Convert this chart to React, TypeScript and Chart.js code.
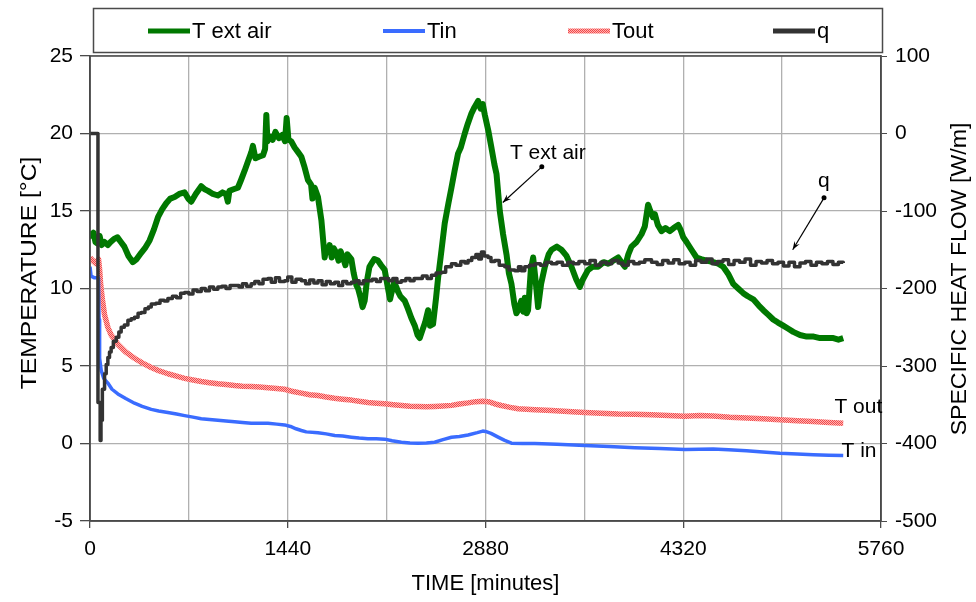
import React, { useEffect, useRef } from "react";
import { Chart, registerables } from "chart.js";

Chart.register(...registerables);

// ---------------- DATA ----------------
const extAirTime = [
  0, 10, 25, 40, 55, 70, 85, 105, 130, 150, 175, 200, 225, 250, 280, 312, 340, 373, 400, 434,
  465, 495, 525, 555, 585, 616, 650, 689, 715, 737, 770, 810, 835, 859, 895, 931, 965, 990, 1004, 1015,
  1045, 1077, 1100, 1126, 1150, 1175, 1186, 1205, 1230, 1260, 1275, 1284, 1292, 1310, 1330, 1350, 1375, 1400, 1420, 1432,
  1445, 1465, 1490, 1515, 1539, 1560, 1587, 1610, 1620, 1636, 1660, 1685, 1700, 1709, 1720, 1735, 1745, 1760, 1775, 1794,
  1810, 1825, 1842, 1860, 1875, 1903, 1920, 1940, 1952, 1970, 1985, 2000, 2015, 2035, 2049, 2070, 2097, 2120, 2146, 2170,
  2185, 2195, 2215, 2230, 2243, 2260, 2292, 2315, 2340, 2365, 2385, 2401, 2420, 2440, 2462, 2475, 2498, 2520, 2535, 2560,
  2583, 2610, 2632, 2655, 2680, 2700, 2729, 2750, 2778, 2800, 2826, 2845, 2860, 2875, 2900, 2923, 2945, 2960, 2984, 3008,
  3033, 3050, 3069, 3090, 3105, 3118, 3140, 3155, 3166, 3180, 3190, 3210, 3227, 3245, 3263, 3285, 3312, 3340, 3361, 3400,
  3433, 3470, 3506, 3540, 3567, 3590, 3627, 3660, 3700, 3740, 3773, 3810, 3846, 3870, 3895, 3920, 3943, 3980, 4016, 4040,
  4064, 4080, 4100, 4113, 4135, 4162, 4190, 4222, 4250, 4283, 4300, 4320, 4344, 4380, 4417, 4450, 4490, 4538, 4575, 4611,
  4650, 4684, 4720, 4757, 4790, 4830, 4870, 4903, 4940, 4975, 5010, 5048, 5085, 5121, 5170, 5219, 5270, 5316, 5360, 5413,
  5450, 5485,
];
const extAirTemp = [
  13.7, 13.4, 13.6, 13.0, 12.9, 13.4, 12.8, 13.0, 12.8, 13.0, 13.2, 13.3, 13.0, 12.7, 12.1, 11.7, 11.9, 12.3, 12.6, 13.1,
  13.8, 14.6, 15.1, 15.5, 15.8, 15.9, 16.1, 16.2, 15.8, 15.6, 16.1, 16.6, 16.4, 16.3, 16.1, 16.0, 16.2, 16.1, 15.6, 16.3,
  16.4, 16.5, 17.0, 17.6, 18.2, 18.8, 19.2, 18.4, 18.5, 18.6, 19.0, 21.2, 19.5, 19.8, 19.6, 20.1, 19.7, 19.9, 19.5, 21.0,
  19.6, 19.5, 19.1, 18.8, 18.5, 17.9, 17.0, 16.7, 15.8, 16.5, 15.9, 14.4, 12.9, 12.0, 12.6, 12.4, 12.8, 12.0, 12.6, 12.3,
  11.8, 12.4, 12.0, 11.5, 12.2, 11.9, 11.0, 10.2, 10.0, 9.4, 8.8, 9.2, 10.4, 11.4, 11.6, 11.9, 11.8, 11.5, 11.2, 10.0,
  9.3, 9.7, 10.4, 10.1, 9.8, 9.5, 9.2, 8.7, 8.1, 7.6, 7.0, 6.8, 7.3, 7.8, 8.6, 7.6, 7.7, 9.4, 10.7, 12.5,
  14.2, 15.5, 16.5, 17.6, 18.7, 19.1, 20.0, 20.6, 21.3, 21.7, 22.1, 21.6, 21.9, 21.2, 20.2, 19.1, 18.0, 17.4, 15.0, 13.5,
  12.2, 11.0, 10.3, 9.0, 8.4, 8.6, 9.2, 8.5, 9.4, 8.4, 8.6, 11.2, 12.0, 10.5, 8.8, 10.3, 11.4, 12.2, 12.5, 12.7,
  12.5, 12.1, 11.4, 10.6, 10.1, 10.6, 11.2, 11.4, 11.4, 11.7, 11.6, 11.8, 12.0, 11.7, 11.4, 12.2, 12.7, 13.0, 13.5, 14.0,
  15.4, 15.0, 14.6, 14.8, 14.1, 13.7, 13.9, 13.7, 13.9, 14.1, 13.8, 13.3, 13.0, 12.5, 12.0, 11.9, 11.8, 11.7, 11.6, 11.4,
  10.9, 10.3, 10.0, 9.7, 9.5, 9.3, 8.9, 8.6, 8.3, 8.0, 7.8, 7.6, 7.4, 7.2, 7.0, 6.9, 6.9, 6.8, 6.8, 6.8,
  6.7, 6.8,
];

const tinTime = [
  0, 8, 30, 62, 66, 70, 82, 100, 130, 160, 203, 260, 324, 380, 446, 500, 567, 630, 689, 750,
  810, 870, 931, 990, 1053, 1110, 1174, 1235, 1296, 1360, 1417, 1460, 1500, 1539, 1575, 1660, 1720, 1782, 1840, 1903,
  1960, 2024, 2085, 2146, 2200, 2267, 2330, 2389, 2450, 2510, 2570, 2632, 2690, 2753, 2820, 2860, 2880, 2920, 2972, 3020,
  3069, 3150, 3239, 3400, 3603, 3780, 3968, 4150, 4332, 4538, 4650, 4781, 4900, 5024, 5150, 5267, 5380, 5485,
];
const tinTemp = [
  11.4, 10.8, 10.7, 10.7, 8.0, 5.5, 4.7, 4.2, 3.9, 3.5, 3.2, 2.9, 2.6, 2.4, 2.2, 2.1, 2.0, 1.9, 1.8, 1.7,
  1.6, 1.55, 1.5, 1.45, 1.4, 1.35, 1.3, 1.3, 1.3, 1.25, 1.2, 1.1, 0.95, 0.84, 0.75, 0.7, 0.62, 0.52, 0.48, 0.41,
  0.35, 0.3, 0.3, 0.28, 0.18, 0.08, 0.04, 0.02, 0.03, 0.08, 0.25, 0.4, 0.45, 0.55, 0.7, 0.8, 0.78, 0.65, 0.41, 0.2,
  0.02, 0.0, 0.0, -0.05, -0.13, -0.2, -0.28, -0.33, -0.38, -0.36, -0.4, -0.47, -0.55, -0.63, -0.68, -0.72, -0.76, -0.78,
];

const toutTime = [
  0, 20, 45, 62, 70, 78, 90, 106, 130, 154, 180, 203, 260, 324, 380, 446, 500, 567, 630, 689,
  750, 810, 870, 931, 990, 1053, 1110, 1174, 1235, 1296, 1360, 1417, 1480, 1540, 1600, 1660, 1720, 1780, 1840, 1903,
  1960, 2024, 2085, 2146, 2210, 2270, 2330, 2389, 2450, 2510, 2570, 2632, 2690, 2753, 2810, 2860, 2900, 2950, 2996, 3060,
  3118, 3240, 3361, 3480, 3603, 3720, 3846, 3968, 4089, 4210, 4332, 4440, 4538, 4660, 4781, 4900, 5024, 5150, 5267, 5380,
  5485,
];
const toutTemp = [
  12.0, 11.8, 11.6, 11.9, 11.2, 10.2, 9.3, 8.3, 7.5, 7.0, 6.7, 6.4, 5.9, 5.5, 5.2, 4.9, 4.7, 4.5, 4.35, 4.2,
  4.1, 4.0, 3.92, 3.85, 3.8, 3.74, 3.7, 3.68, 3.64, 3.6, 3.55, 3.5, 3.35, 3.25, 3.15, 3.1, 3.0, 2.92, 2.86, 2.8,
  2.72, 2.65, 2.6, 2.56, 2.5, 2.45, 2.4, 2.38, 2.37, 2.39, 2.42, 2.46, 2.55, 2.62, 2.7, 2.73, 2.7, 2.55, 2.45, 2.33,
  2.24, 2.18, 2.13, 2.06, 2.0, 1.95, 1.9, 1.88, 1.86, 1.8, 1.76, 1.8, 1.78, 1.7, 1.65, 1.6, 1.53, 1.47, 1.42, 1.36,
  1.31,
];

const qTime = [
  0, 57, 58, 68, 74, 80, 90, 106, 118, 130, 142, 154, 170, 191, 210, 227, 250, 276, 300, 324,
  350, 373, 400, 425, 446, 480, 510, 540, 567, 600, 630, 660, 689, 720, 750, 780, 810, 840, 870, 900,
  931, 960, 990, 1020, 1053, 1085, 1110, 1140, 1174, 1200, 1230, 1260, 1296, 1320, 1350, 1380, 1417, 1440, 1470, 1500,
  1539, 1570, 1600, 1630, 1660, 1690, 1720, 1750, 1782, 1810, 1840, 1870, 1903, 1930, 1960, 1990, 2024, 2055, 2085, 2115,
  2146, 2175, 2205, 2235, 2267, 2300, 2330, 2360, 2389, 2420, 2455, 2486, 2520, 2559, 2590, 2632, 2665, 2700, 2730, 2753,
  2780, 2810, 2830, 2850, 2870, 2899, 2920, 2947, 2980, 3020, 3050, 3093, 3120, 3140, 3166, 3200, 3240, 3280, 3320, 3361,
  3400, 3440, 3480, 3520, 3560, 3603, 3640, 3680, 3720, 3760, 3800, 3846, 3880, 3920, 3960, 4000, 4040, 4089, 4130, 4170,
  4210, 4250, 4290, 4332, 4370, 4410, 4450, 4490, 4530, 4570, 4610, 4650, 4690, 4730, 4770, 4810, 4850, 4890, 4930, 4970,
  5010, 5050, 5090, 5130, 5170, 5210, 5250, 5290, 5330, 5370, 5410, 5450, 5485,
];
const qFlow = [
  0, 0, -347, -347, -396, -370, -330, -310, -298, -289, -282, -276, -268, -263, -256, -250, -247, -241, -239, -237,
  -232, -231, -226, -224, -220, -219, -215, -216, -213, -210, -212, -206, -205, -207, -202, -204, -200, -203, -198, -201,
  -198, -197, -200, -196, -196, -198, -194, -197, -194, -191, -194, -188, -187, -192, -186, -191, -190, -185, -192, -188,
  -190, -194, -189, -193, -190, -195, -191, -194, -192, -196, -191, -194, -192, -190, -194, -190, -190, -188, -191, -187,
  -187, -190, -187, -192, -190, -187, -190, -187, -187, -184, -187, -183, -180, -179, -172, -168, -170, -165, -167, -164,
  -160, -156, -162, -153, -158, -160, -165, -164, -170, -172, -176, -177, -172, -177, -172, -170, -168, -170, -166, -168,
  -166, -170, -166, -168, -165, -168, -164, -170, -166, -168, -164, -167, -170, -165, -168, -166, -163, -166, -169, -164,
  -167, -163, -168, -166, -170, -164, -166, -162, -168, -165, -163, -169, -164, -166, -162, -170, -165, -167, -164, -168,
  -166, -171, -166, -172, -167, -165, -170, -166, -168, -165, -169, -166, -167,
];

const seriesNames = ["T ext air", "Tin", "Tout", "q"];
const xTickLabels = [0, 1440, 2880, 4320, 5760];

// annotations in data units (time [min], temperature [°C])
const annotations = [
  { text: "T ext air", tx: 3334, ty: 18.7, dotX: 3290, dotY: 17.85, tipX: 3006, tipY: 15.55, arrow: true },
  { text: "q", tx: 5344, ty: 16.9, dotX: 5345, dotY: 15.85, tipX: 5117, tipY: 12.5, arrow: true },
  { text: "T out", tx: 5595, ty: 2.35, arrow: false },
  { text: "T in", tx: 5600, ty: -0.5, arrow: false },
];

// ---------------- STYLE ----------------
const FONT = "'Liberation Sans', Arial, Helvetica, sans-serif";
const FS = 21;
const GREEN = "#007800";
const BLUE = "#3a6cff";
const BLACK = "#333333";
const AXIS = "#4a4a4a";
const GRID = "#b0b0b0";
const LEGEND_X = [148, 383, 568, 773];

function makeRedPattern(): CanvasPattern | string {
  const c = document.createElement("canvas");
  c.width = 2;
  c.height = 2;
  const g = c.getContext("2d");
  if (!g) return "#ff8080";
  g.fillStyle = "#ffb3b3";
  g.fillRect(0, 0, 2, 2);
  g.fillStyle = "#f24a4a";
  g.fillRect(0, 0, 1, 1);
  g.fillRect(1, 1, 1, 1);
  const p = g.createPattern(c, "repeat");
  return p || "#ff8080";
}

function pts(ts: number[], vs: number[]) {
  return ts.map((t, i) => ({ x: t, y: vs[i] }));
}

export default function App() {
  const ref = useRef<HTMLCanvasElement | null>(null);

  useEffect(() => {
    if (!ref.current) return;
    const red = makeRedPattern();
    const colors: any[] = [GREEN, BLUE, red, BLACK];
    const widths = [6, 3.5, 5.5, 3.5];

    const overlay = {
      id: "overlay",
      afterDraw(chart: any) {
        const ctx = chart.ctx as CanvasRenderingContext2D;
        const ca = chart.chartArea;
        const xs = chart.scales.x;
        const ys = chart.scales.y;
        ctx.save();
        // plot frame
        ctx.strokeStyle = AXIS;
        ctx.lineWidth = 1.5;
        ctx.strokeRect(ca.left, ca.top, ca.right - ca.left, ca.bottom - ca.top);

        // legend box
        ctx.strokeRect(93.5, 8.5, 789, 44);
        ctx.font = `22px ${FONT}`;
        ctx.textBaseline = "middle";
        ctx.textAlign = "left";
        seriesNames.forEach((name, i) => {
          const x0 = LEGEND_X[i];
          ctx.strokeStyle = colors[i];
          ctx.lineWidth = i === 1 ? 4 : 5;
          ctx.lineCap = "butt";
          ctx.beginPath();
          ctx.moveTo(x0, 31);
          ctx.lineTo(x0 + 42, 31);
          ctx.stroke();
          ctx.fillStyle = "#000";
          ctx.fillText(name, x0 + 44, 32);
        });

        // axis titles (rotated)
        ctx.fillStyle = "#000";
        ctx.textAlign = "center";
        ctx.font = `22px ${FONT}`;
        const rotTitle = (text: string, x: number, y: number, sx: number) => {
          ctx.save();
          ctx.translate(x, y);
          ctx.rotate(-Math.PI / 2);
          ctx.scale(sx, 1);
          ctx.fillText(text, 0, 0);
          ctx.restore();
        };
        rotTitle("TEMPERATURE [°C]", 30, 273, 1.12);
        rotTitle("SPECIFIC HEAT FLOW [W/m]", 960, 279, 1.05);

        // annotations
        ctx.font = `${FS}px ${FONT}`;
        ctx.fillStyle = "#000";
        ctx.strokeStyle = "#000";
        annotations.forEach((a) => {
          const px = xs.getPixelForValue(a.tx);
          const py = ys.getPixelForValue(a.ty);
          ctx.textAlign = "center";
          ctx.fillText(a.text, px, py);
          if (a.arrow) {
            const dx = xs.getPixelForValue(a.dotX as number);
            const dy = ys.getPixelForValue(a.dotY as number);
            const tx = xs.getPixelForValue(a.tipX as number);
            const ty = ys.getPixelForValue(a.tipY as number);
            ctx.lineWidth = 1.2;
            ctx.beginPath();
            ctx.arc(dx, dy, 2.5, 0, Math.PI * 2);
            ctx.fill();
            ctx.beginPath();
            ctx.moveTo(dx, dy);
            ctx.lineTo(tx, ty);
            ctx.stroke();
            const ang = Math.atan2(ty - dy, tx - dx);
            const L = 9;
            const W = 0.35;
            ctx.beginPath();
            ctx.moveTo(tx, ty);
            ctx.lineTo(tx - L * Math.cos(ang - W), ty - L * Math.sin(ang - W));
            ctx.lineTo(tx - L * 0.6 * Math.cos(ang), ty - L * 0.6 * Math.sin(ang));
            ctx.lineTo(tx - L * Math.cos(ang + W), ty - L * Math.sin(ang + W));
            ctx.closePath();
            ctx.fill();
          }
        });
        ctx.restore();
      },
    };

    const data = [pts(extAirTime, extAirTemp), pts(tinTime, tinTemp), pts(toutTime, toutTemp), pts(qTime, qFlow)];

    const chart = new Chart(ref.current, {
      type: "line",
      data: {
        datasets: seriesNames.map((name, i) => ({
          label: name,
          data: data[i],
          borderColor: colors[i],
          backgroundColor: colors[i],
          borderWidth: widths[i],
          borderJoinStyle: "round" as any,
          pointRadius: 0,
          tension: 0,
          fill: false,
          stepped: i === 3 ? ("before" as any) : false,
          yAxisID: i === 3 ? "y1" : "y",
          order: i === 3 ? 0 : i === 0 ? 1 : 2,
        })),
      },
      options: {
        animation: false,
        responsive: false,
        devicePixelRatio: 1,
        events: [],
        layout: { padding: { top: 56, left: 0, right: 0, bottom: 0 } },
        plugins: { legend: { display: false }, tooltip: { enabled: false }, title: { display: false } },
        scales: {
          x: {
            type: "linear",
            min: 0,
            max: 5760,
            afterFit: (s: any) => {
              s.height = 81;
            },
            afterBuildTicks: (s: any) => {
              const t = [];
              for (let v = 0; v <= 5760; v += 720) t.push({ value: v });
              s.ticks = t;
            },
            ticks: {
              autoSkip: false,
              maxRotation: 0,
              color: "#000",
              font: { family: FONT, size: FS },
              padding: 9,
              callback: (v: any) => (xTickLabels.includes(Number(v)) ? String(v) : ""),
            },
            grid: {
              color: GRID,
              lineWidth: 1.3,
              tickLength: 7,
              tickColor: (c: any) => (c.tick && xTickLabels.includes(c.tick.value) ? AXIS : "rgba(0,0,0,0)"),
            },
            border: { color: AXIS, width: 1.5 },
            title: {
              display: true,
              text: "TIME [minutes]",
              color: "#000",
              font: { family: FONT, size: 22 },
              padding: { top: 0, bottom: 5 },
            },
          },
          y: {
            type: "linear",
            position: "left",
            min: -5,
            max: 25,
            afterFit: (s: any) => {
              s.width = 90;
            },
            ticks: { stepSize: 5, color: "#000", font: { family: FONT, size: FS }, padding: 7 },
            grid: { color: GRID, lineWidth: 1.3, tickLength: 10, tickColor: AXIS },
            border: { color: AXIS, width: 1.5 },
            title: { display: false },
          },
          y1: {
            type: "linear",
            position: "right",
            min: -500,
            max: 100,
            afterFit: (s: any) => {
              s.width = 95;
            },
            ticks: { stepSize: 100, color: "#000", font: { family: FONT, size: FS }, padding: 8 },
            grid: { drawOnChartArea: false, tickLength: 6, tickColor: AXIS },
            border: { color: AXIS, width: 1.5 },
          },
        },
      } as any,
      plugins: [overlay],
    });
    return () => chart.destroy();
  }, []);

  return (
    <div style={{ position: "fixed", left: 0, top: 0, width: 976, height: 602, background: "#fff" }}>
      <canvas ref={ref} width={976} height={602} style={{ display: "block", width: 976, height: 602 }} />
    </div>
  );
}
